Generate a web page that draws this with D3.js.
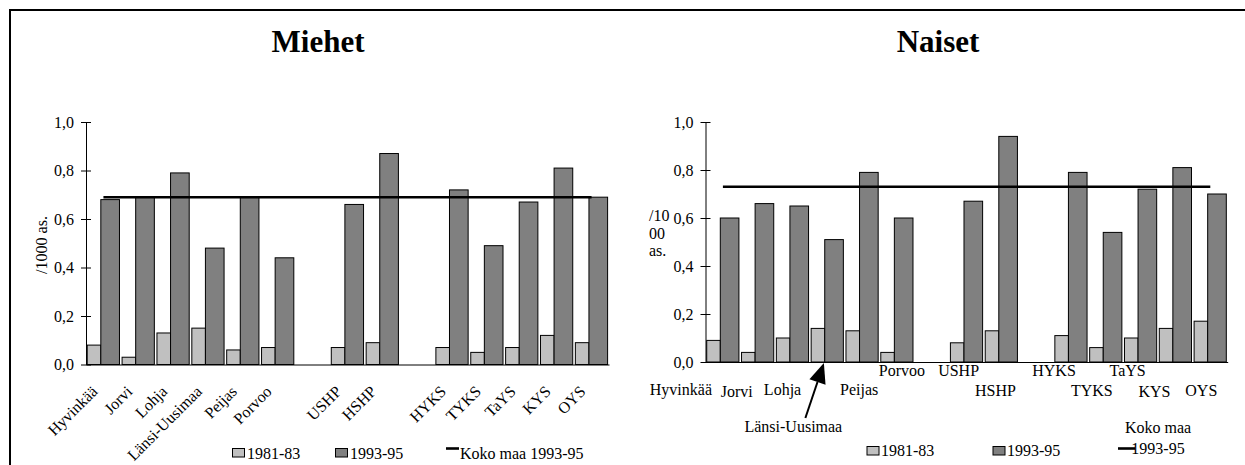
<!DOCTYPE html>
<html>
<head>
<meta charset="utf-8">
<script src="https://cdn.jsdelivr.net/npm/d3@7"></script>
<style>
  html, body { margin: 0; padding: 0; background: #fff; }
  svg { display: block; font-family: "Liberation Serif", "Times New Roman", serif; }
  svg text { font-family: "Liberation Serif", "Times New Roman", serif; }
</style>
</head>
<body>
<svg id="chart" width="1245" height="465"></svg>
<script>
// Sairaanhoitopiirit / alueet (tyhjä merkkijono = väli ryhmien välissä)
const categories = ["Hyvinkää", "Jorvi", "Lohja", "Länsi-Uusimaa", "Peijas", "Porvoo", "",
                    "USHP", "HSHP", "", "HYKS", "TYKS", "TaYS", "KYS", "OYS"];

// Miehet, /1000 as.
const miehet8183 = [0.08, 0.03, 0.13, 0.15, 0.06, 0.07, null, 0.07, 0.09, null, 0.07, 0.05, 0.07, 0.12, 0.09];
const miehet9395 = [0.68, 0.69, 0.79, 0.48, 0.69, 0.44, null, 0.66, 0.87, null, 0.72, 0.49, 0.67, 0.81, 0.69];
const miehetKokoMaa = 0.69;

// Naiset, /1000 as.
const naiset8183 = [0.09, 0.04, 0.10, 0.14, 0.13, 0.04, null, 0.08, 0.13, null, 0.11, 0.06, 0.10, 0.14, 0.17];
const naiset9395 = [0.60, 0.66, 0.65, 0.51, 0.79, 0.60, null, 0.67, 0.94, null, 0.79, 0.54, 0.72, 0.81, 0.70];
const naisetKokoMaa = 0.73;

const yTicks = [0.0, 0.2, 0.4, 0.6, 0.8, 1.0];
const seriesNames = ["1981-83", "1993-95", "Koko maa 1993-95"];

// Naiset-kuvan vaakasuorien luokkanimien sijoittelu: [siirto x, rivin perusviiva]
const naisetLabelLayout = [[-42, 395], [-21, 397], [-10, 395], null, [-3, 395], [5, 376], null,
                           [-8, 376], [-6, 396], null, [-17, 376], [-14, 396], [-13, 376], [-21, 397], [-9, 396]];

const FILL_OLD = "#c0c0c0";
const FILL_NEW = "#808080";
const FONT = 16;
const SERIF = "'Liberation Serif', 'Times New Roman', serif";

const fmt = d3.formatLocale({ decimal: ",", thousands: " ", grouping: [3], currency: ["", "€"] }).format(".1f");

const svg = d3.select("#chart");

// Kehys (ylä- ja vasen reuna)
svg.append("line").attr("x1", 9).attr("x2", 1245).attr("y1", 10).attr("y2", 10)
  .attr("stroke", "#000").attr("stroke-width", 2);
svg.append("line").attr("x1", 10).attr("x2", 10).attr("y1", 9).attr("y2", 465)
  .attr("stroke", "#000").attr("stroke-width", 2);

function drawPanel(cfg) {
  const g = svg.append("g");
  const idx = categories.map((d, i) => i);

  const x = d3.scaleBand().domain(idx).range([cfg.left, cfg.right]).padding(0);
  const y = d3.scaleLinear().domain([0, 1]).range([cfg.bottom, cfg.top]);
  const step = x.bandwidth();
  const oldW = step * 0.39, newW = step * 0.535, off = step * 0.035;

  // Otsikko
  g.append("text").attr("x", cfg.titleX).attr("y", 52)
    .attr("text-anchor", "middle").attr("font-size", 31).attr("font-weight", "bold")
    .text(cfg.title);

  // Pylväät 1981-83
  g.append("g").selectAll("rect").data(idx.filter(i => cfg.old[i] != null)).join("rect")
    .attr("x", i => x(i) + off).attr("width", oldW)
    .attr("y", i => y(cfg.old[i])).attr("height", i => y(0) - y(cfg.old[i]))
    .attr("fill", FILL_OLD).attr("stroke", "#000").attr("stroke-width", 1);

  // Pylväät 1993-95
  g.append("g").selectAll("rect").data(idx.filter(i => cfg.neu[i] != null)).join("rect")
    .attr("x", i => x(i) + off + oldW).attr("width", newW)
    .attr("y", i => y(cfg.neu[i])).attr("height", i => y(0) - y(cfg.neu[i]))
    .attr("fill", FILL_NEW).attr("stroke", "#000").attr("stroke-width", 1);

  // Y-akseli, ristikkäiset jakoviivat
  const yAxis = g.append("g").attr("transform", `translate(${cfg.left},0)`)
    .call(d3.axisLeft(y).tickValues(yTicks).tickFormat(fmt).tickSize(5).tickSizeOuter(0).tickPadding(7));
  yAxis.attr("font-family", SERIF).attr("font-size", FONT);
  yAxis.selectAll(".tick line").attr("x1", 5);
  yAxis.selectAll("text").attr("fill", "#000");
  yAxis.select(".domain").attr("stroke", "#000");

  // X-akseli
  const xAxis = g.append("g").attr("transform", `translate(0,${y(0)})`)
    .call(d3.axisBottom(x).tickValues([]).tickSizeOuter(0));
  xAxis.select(".domain").attr("stroke", "#000");

  // Koko maan taso
  const mid = i => x(i) + step / 2;
  const line = d3.line().x(i => mid(i)).y(() => y(cfg.koko));
  g.append("path").datum([idx[0], idx[idx.length - 1]])
    .attr("d", line).attr("fill", "none").attr("stroke", "#000").attr("stroke-width", 2.6);

  cfg.labels(g, x, y, mid);
  return { x, y };
}

// Miehet
drawPanel({
  title: "Miehet", titleX: 318,
  left: 86, right: 609, top: 122, bottom: 364.5,
  old: miehet8183, neu: miehet9395, koko: miehetKokoMaa,
  labels: (g, x, y, mid) => {
    g.append("text").attr("transform", "translate(47,245) rotate(-90)")
      .attr("text-anchor", "middle").attr("font-size", FONT).text("/1000 as.");

    g.append("g").selectAll("text").data(categories.map((c, i) => [c, i]).filter(d => d[0] !== "")).join("text")
      .attr("transform", d => `translate(${mid(d[1]) - 5},${y(0) + 28}) rotate(-45)`)
      .attr("text-anchor", "end").attr("font-size", FONT).text(d => d[0]);

    // Selite
    const lg = g.append("g").attr("font-size", FONT);
    lg.append("rect").attr("x", 232.5).attr("y", 448.5).attr("width", 12).attr("height", 8.5)
      .attr("fill", FILL_OLD).attr("stroke", "#000");
    lg.append("text").attr("x", 247).attr("y", 459).text(seriesNames[0]);
    lg.append("rect").attr("x", 335.5).attr("y", 448.5).attr("width", 12).attr("height", 8.5)
      .attr("fill", FILL_NEW).attr("stroke", "#000");
    lg.append("text").attr("x", 350).attr("y", 459).text(seriesNames[1]);
    lg.append("line").attr("x1", 446).attr("x2", 459).attr("y1", 448.5).attr("y2", 448.5)
      .attr("stroke", "#000").attr("stroke-width", 2.6);
    lg.append("text").attr("x", 460).attr("y", 459).text(seriesNames[2]);
  }
});

// Naiset
drawPanel({
  title: "Naiset", titleX: 938,
  left: 705.5, right: 1227.7, top: 122, bottom: 362,
  old: naiset8183, neu: naiset9395, koko: naisetKokoMaa,
  labels: (g, x, y, mid) => {
    const yt = g.append("text").attr("font-size", FONT);
    ["/10", "00", "as."].forEach((t, k) => {
      yt.append("tspan").attr("x", 649).attr("y", 221 + k * 17.5).text(t);
    });

    g.append("g").selectAll("text")
      .data(categories.map((c, i) => [c, i]).filter(d => d[0] !== "" && naisetLabelLayout[d[1]]))
      .join("text")
      .attr("x", d => mid(d[1]) + naisetLabelLayout[d[1]][0])
      .attr("y", d => naisetLabelLayout[d[1]][1])
      .attr("text-anchor", "middle").attr("font-size", FONT).text(d => d[0]);

    // Länsi-Uusimaa nuolella
    const li = categories.indexOf("Länsi-Uusimaa");
    const tipX = x(li) + x.bandwidth() * 0.4, tipY = y(0) + 1;
    g.append("text").attr("x", mid(li) - 34).attr("y", 432)
      .attr("text-anchor", "middle").attr("font-size", FONT).text(categories[li]);
    const sx = tipX - 18.5, sy = 418;
    const ang = Math.atan2(tipY - sy, tipX - sx);
    const len = 20, half = 8.5;
    const bx = tipX - len * Math.cos(ang), by = tipY - len * Math.sin(ang);
    g.append("line").attr("x1", sx).attr("y1", sy).attr("x2", bx).attr("y2", by)
      .attr("stroke", "#000").attr("stroke-width", 2);
    g.append("path")
      .attr("d", `M${tipX},${tipY}L${bx + half * Math.sin(ang)},${by - half * Math.cos(ang)}L${bx - half * Math.sin(ang)},${by + half * Math.cos(ang)}Z`)
      .attr("fill", "#000");

    // Selite
    const lg = g.append("g").attr("font-size", FONT);
    lg.append("rect").attr("x", 867).attr("y", 446.5).attr("width", 12).attr("height", 8.5)
      .attr("fill", FILL_OLD).attr("stroke", "#000");
    lg.append("text").attr("x", 881).attr("y", 456).text(seriesNames[0]);
    lg.append("rect").attr("x", 993).attr("y", 446.5).attr("width", 12).attr("height", 8.5)
      .attr("fill", FILL_NEW).attr("stroke", "#000");
    lg.append("text").attr("x", 1007).attr("y", 456).text(seriesNames[1]);
    const kt = lg.append("text").attr("text-anchor", "middle");
    kt.append("tspan").attr("x", 1158).attr("y", 433).text("Koko maa");
    kt.append("tspan").attr("x", 1158).attr("y", 454).text("1993-95");
    lg.append("line").attr("x1", 1118).attr("x2", 1135).attr("y1", 448.5).attr("y2", 448.5)
      .attr("stroke", "#000").attr("stroke-width", 2.6);
  }
});
</script>
</body>
</html>
